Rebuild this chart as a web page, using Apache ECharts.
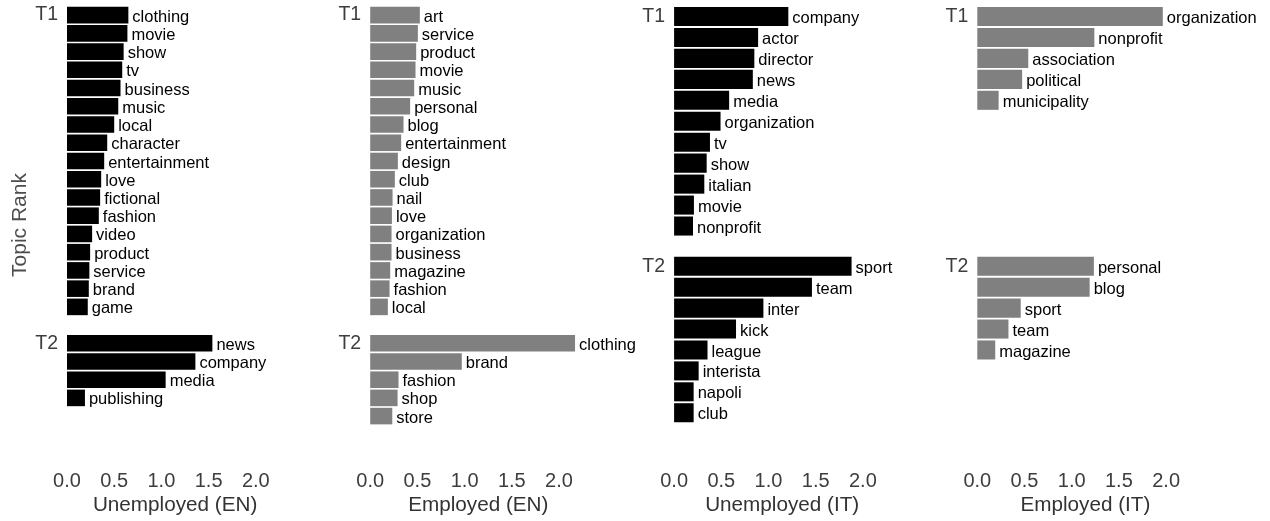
<!DOCTYPE html>
<html>
<head>
<meta charset="utf-8">
<script src="https://cdn.jsdelivr.net/npm/echarts@6/dist/echarts.min.js"></script>
<style>
  html, body { margin: 0; padding: 0; background: #ffffff; }
  #chart { width: 1270px; height: 521px; }
</style>
</head>
<body>
<div id="chart"></div>
<script>
// ---------- DATA ----------
const xTicks = [0, 0.5, 1.0, 1.5, 2.0];

const unempEN_T1_terms = ['clothing','movie','show','tv','business','music','local','character','entertainment','love','fictional','fashion','video','product','service','brand','game'];
const unempEN_T1_vals  = [0.65,0.64,0.60,0.585,0.567,0.543,0.50,0.426,0.394,0.362,0.351,0.337,0.266,0.245,0.237,0.231,0.22];
const unempEN_T2_terms = ['news','company','media','publishing'];
const unempEN_T2_vals  = [1.54,1.36,1.045,0.19];

const empEN_T1_terms = ['art','service','product','movie','music','personal','blog','entertainment','design','club','nail','love','organization','business','magazine','fashion','local'];
const empEN_T1_vals  = [0.526,0.505,0.487,0.48,0.466,0.423,0.353,0.328,0.293,0.261,0.237,0.23,0.226,0.226,0.212,0.205,0.187];
const empEN_T2_terms = ['clothing','brand','fashion','shop','store'];
const empEN_T2_vals  = [2.17,0.97,0.30,0.29,0.234];

const unempIT_T1_terms = ['company','actor','director','news','media','organization','tv','show','italian','movie','nonprofit'];
const unempIT_T1_vals  = [1.21,0.89,0.85,0.834,0.583,0.492,0.38,0.345,0.32,0.21,0.20];
const unempIT_T2_terms = ['sport','team','inter','kick','league','interista','napoli','club'];
const unempIT_T2_vals  = [1.88,1.46,0.946,0.656,0.354,0.26,0.207,0.207];

const empIT_T1_terms = ['organization','nonprofit','association','political','municipality'];
const empIT_T1_vals  = [1.965,1.24,0.54,0.475,0.226];
const empIT_T2_terms = ['personal','blog','sport','team','magazine'];
const empIT_T2_vals  = [1.235,1.19,0.46,0.33,0.19];

const topicNames = ['T1','T2'];
const panelTitles = ['Unemployed (EN)','Employed (EN)','Unemployed (IT)','Employed (IT)'];

// ---------- LAYOUT ----------
const FONT = 'Liberation Sans';
const XMAX = 2.29;
const PXU = 94.4;
const W = XMAX * PXU;

const panels = [
  { left: 67,    color: '#000000', title: panelTitles[0],
    topics: [ {terms: unempEN_T1_terms, vals: unempEN_T1_vals, slots: 17, top: 6,     height: 310},
              {terms: unempEN_T2_terms, vals: unempEN_T2_vals, slots: 5,  top: 334.2, height: 91} ] },
  { left: 370.2, color: '#808080', title: panelTitles[1],
    topics: [ {terms: empEN_T1_terms, vals: empEN_T1_vals, slots: 17, top: 6,     height: 310},
              {terms: empEN_T2_terms, vals: empEN_T2_vals, slots: 5,  top: 334.2, height: 91} ] },
  { left: 674.1, color: '#000000', title: panelTitles[2],
    topics: [ {terms: unempIT_T1_terms, vals: unempIT_T1_vals, slots: 11, top: 6,     height: 230.5},
              {terms: unempIT_T2_terms, vals: unempIT_T2_vals, slots: 8,  top: 255.8, height: 167.4} ] },
  { left: 977.3, color: '#808080', title: panelTitles[3],
    topics: [ {terms: empIT_T1_terms, vals: empIT_T1_vals, slots: 11, top: 6,     height: 230.5},
              {terms: empIT_T2_terms, vals: empIT_T2_vals, slots: 8,  top: 255.8, height: 167.4} ] }
];

const grid = [], xAxis = [], yAxis = [], series = [];
let gi = 0;
panels.forEach((p) => {
  p.topics.forEach((t, ti) => {
    grid.push({ left: p.left, top: t.top, width: W, height: t.height, containLabel: false });
    const isBottom = ti === p.topics.length - 1;
    const axisBottom = t.top + t.height;
    xAxis.push({
      gridIndex: gi, type: 'value', min: 0, max: XMAX, interval: 0.5,
      axisLine: { show: false }, axisTick: { show: false }, splitLine: { show: false },
      axisLabel: {
        show: isBottom,
        margin: 481.7 - 10 - axisBottom,
        fontFamily: FONT, fontSize: 20, color: '#3d3d3d',
        showMaxLabel: false,
        formatter: (v) => (xTicks.some(x => Math.abs(x - v) < 1e-6) ? v.toFixed(1) : '')
      },
      name: isBottom ? p.title : '',
      nameLocation: 'middle',
      nameGap: 505 - 10.5 - axisBottom,
      nameTextStyle: { fontFamily: FONT, fontSize: 20.7, color: '#333333' }
    });
    const cats = [];
    for (let i = 0; i < t.slots; i++) cats.push(String(i + 1));
    yAxis.push({
      gridIndex: gi, type: 'category', data: cats, inverse: true,
      axisLine: { show: false }, axisTick: { show: false }, splitLine: { show: false },
      axisLabel: {
        interval: 0, margin: 9,
        fontFamily: FONT, fontSize: 19.5, color: '#3d3d3d',
        padding: [4, 0, 0, 0],
        formatter: (v, idx) => (idx === 0 ? topicNames[ti] : '')
      }
    });
    const terms = t.terms;
    series.push({
      type: 'bar', xAxisIndex: gi, yAxisIndex: gi,
      barCategoryGap: '9%',
      itemStyle: { color: p.color },
      data: t.vals.map((v, i) => ({ value: v, term: terms[i] })),
      label: {
        show: true, position: 'right', distance: 4, offset: [0, 2],
        fontFamily: FONT, fontSize: 16.5, color: '#000000',
        formatter: (prm) => prm.data.term
      },
      silent: true, animation: false
    });
    gi++;
  });
});

const chart = echarts.init(document.getElementById('chart'), null, { renderer: 'canvas' });
chart.setOption({
  backgroundColor: '#ffffff',
  animation: false,
  grid, xAxis, yAxis, series,
  graphic: [{
    type: 'text', x: 20, y: 225, rotation: Math.PI / 2,
    style: { text: 'Topic Rank', fontFamily: FONT, fontSize: 21, fill: '#4d4d4d', align: 'center', verticalAlign: 'middle' }
  }]
});
</script>
</body>
</html>
